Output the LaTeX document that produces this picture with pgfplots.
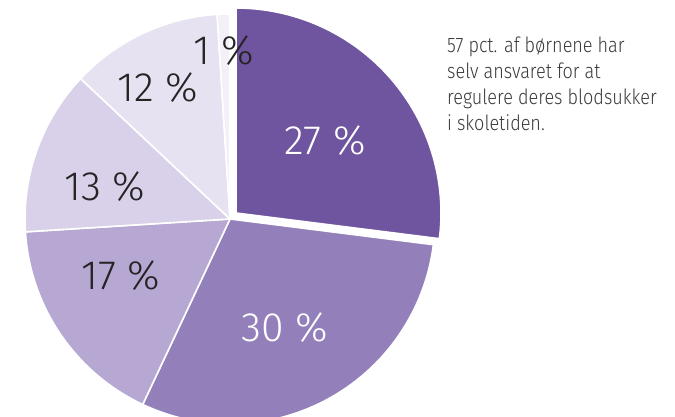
\documentclass[border=0pt]{standalone}
\usepackage{fontspec}
\setmainfont{Fira Sans Light}
\newfontfamily\notefont{Fira Sans Light}[FakeStretch=0.86]
\usepackage{pgfplots}
\pgfplotsset{compat=1.18}
\usepackage{pgfplotstable}
\definecolor{cA}{HTML}{6F55A0}
\definecolor{cB}{HTML}{937FBA}
\definecolor{cC}{HTML}{B6A8D3}
\definecolor{cD}{HTML}{D8D1E9}
\definecolor{cE}{HTML}{E6E2F1}
\definecolor{cF}{HTML}{F3F1F8}
\definecolor{txt}{HTML}{262324}
\def\R{205}
% #1 cumulative start (%), #2 value (%), #3 colour, #4 #5 centre
\newcommand\slice[5]{%
  \pgfmathsetmacro\sa{90-(#1+#2)*3.6}%
  \pgfmathsetmacro\sb{90-#1*3.6}%
  \edef\doslice{\noexpand\addplot[fill=#3, draw=white, line width=1.6pt, line join=round, domain=\sa:\sb, samples=90]
    ({#4+\R*cos(x)}, {#5+\R*sin(x)}) -- (axis cs:#4,#5) -- cycle;}%
  \doslice}
\tikzset{lab/.style={inner sep=0pt, font=\fontsize{41}{42}\selectfont},
  note/.style={text=txt!90, anchor=base west, inner sep=0pt, font=\notefont\fontsize{21}{24}\selectfont}}
\begin{document}
\begin{tikzpicture}
\begin{axis}[hide axis, scale only axis, x=1pt, y=1pt,
  xmin=0, xmax=675, ymin=0, ymax=417, clip=true]
% values: 27, 30, 17, 13, 12, 1 (%)
\slice{0}{27}{cA}{236}{204}
\slice{27}{30}{cB}{230}{198}
\slice{57}{17}{cC}{230}{198}
\slice{74}{13}{cD}{230}{198}
\slice{87}{12}{cE}{230}{198}
\slice{99}{1}{cF}{230}{198}
\node[lab, text=white] at (axis cs:325,276) {27 \%};
\node[lab, text=white] at (axis cs:285,89.5) {30 \%};
\node[lab, text=txt] at (axis cs:120.5,141) {17 \%};
\node[lab, text=txt] at (axis cs:105,230) {13 \%};
\node[lab, text=txt] at (axis cs:157.5,329) {12 \%};
\node[lab, text=txt] at (axis cs:223.5,366) {1 \%};
\node[note] at (axis cs:447,364) {57 pct. af børnene har};
\node[note] at (axis cs:447,338) {selv ansvaret for at};
\node[note] at (axis cs:447,312) {regulere deres blodsukker};
\node[note] at (axis cs:447,286) {i skoletiden.};
\end{axis}
\pgfresetboundingbox
\path (current axis.south west) rectangle (current axis.north east);
\end{tikzpicture}
\end{document}
